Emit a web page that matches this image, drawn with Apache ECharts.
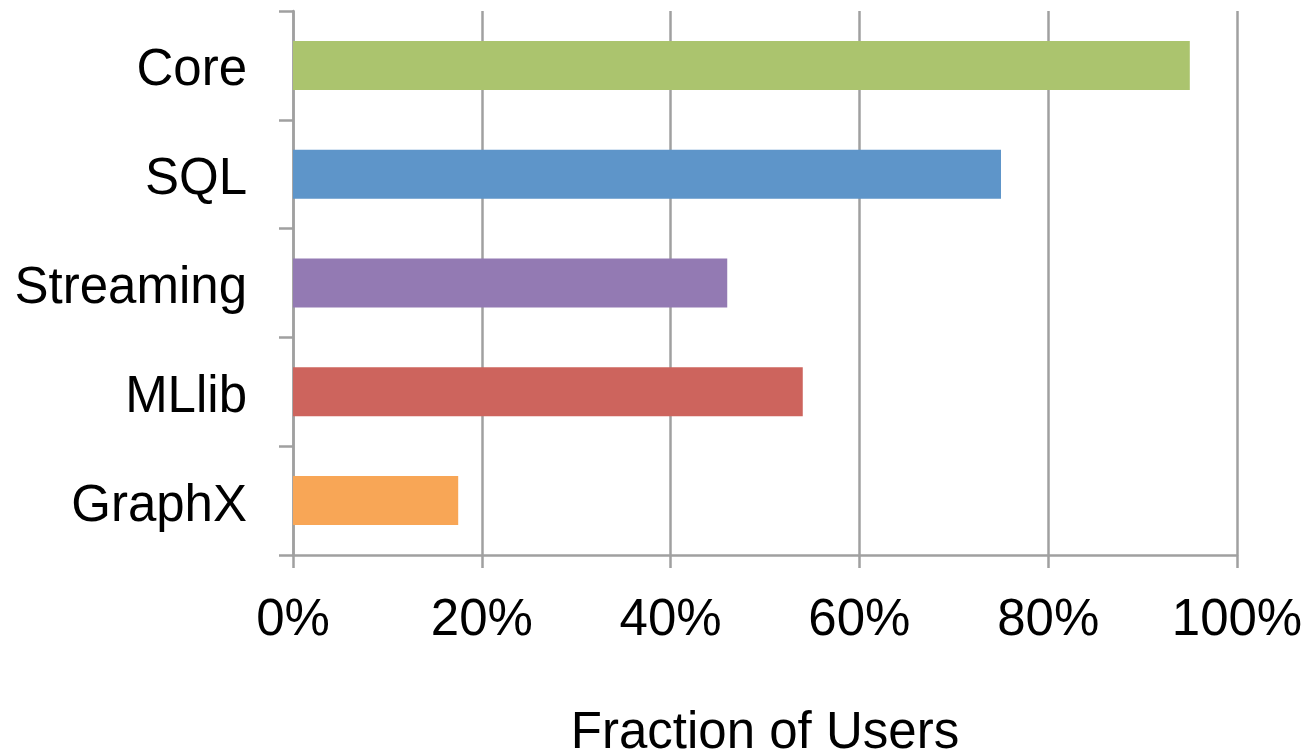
<!DOCTYPE html>
<html>
<head>
<meta charset="utf-8">
<script src="https://cdn.jsdelivr.net/npm/echarts@6/dist/echarts.min.js"></script>
<style>
html,body{margin:0;padding:0;background:#fff;}
#chart{width:1306px;height:754px;}
</style>
</head>
<body>
<div id="chart"></div>
<script>
const categories = ['Core', 'SQL', 'Streaming', 'MLlib', 'GraphX'];
const fractions = [0.95, 0.75, 0.46, 0.54, 0.175];
const barColors = ['#ABC46E', '#5E95C9', '#937AB3', '#CD645D', '#F8A656'];
const xTicks = [0, 0.2, 0.4, 0.6, 0.8, 1.0];
const xAxisTitle = 'Fraction of Users';

const font = '"Liberation Sans", Arial, Helvetica, sans-serif';
const chart = echarts.init(document.getElementById('chart'), null, {renderer: 'canvas'});
chart.setOption({
  animation: false,
  backgroundColor: '#ffffff',
  grid: {left: 293, right: 69, top: 11, bottom: 199, containLabel: false, outerBoundsMode: 'none'},
  xAxis: {
    type: 'value',
    min: xTicks[0],
    max: xTicks[xTicks.length - 1],
    interval: 0.2,
    name: xAxisTitle,
    nameLocation: 'middle',
    nameGap: 153,
    nameTextStyle: {fontFamily: font, fontSize: 51, color: '#000', lineHeight: 51},
    axisLine: {show: true, lineStyle: {color: '#A0A0A0', width: 2.5}},
    axisTick: {show: true, length: 13, lineStyle: {color: '#A0A0A0', width: 2.5}},
    splitLine: {show: true, lineStyle: {color: '#A0A0A0', width: 2.5}},
    axisLabel: {
      fontFamily: font, fontSize: 51, color: '#000', margin: 40, lineHeight: 51,
      formatter: v => Math.round(v * 100) + '%'
    }
  },
  yAxis: {
    type: 'category',
    inverse: true,
    data: categories,
    axisLine: {show: true, lineStyle: {color: '#A0A0A0', width: 2.5}},
    axisTick: {show: true, length: 14, lineStyle: {color: '#A0A0A0', width: 2.5}},
    axisLabel: {
      margin: 46,
      formatter: v => '{a|' + v + '}',
      rich: {a: {fontFamily: font, fontSize: 51, color: '#000', lineHeight: 51, padding: [12, 0, 0, 0]}}
    }
  },
  series: [{
    type: 'bar',
    barWidth: '45%',
    data: fractions.map((v, i) => ({value: v, itemStyle: {color: barColors[i]}}))
  }]
});
</script>
</body>
</html>
